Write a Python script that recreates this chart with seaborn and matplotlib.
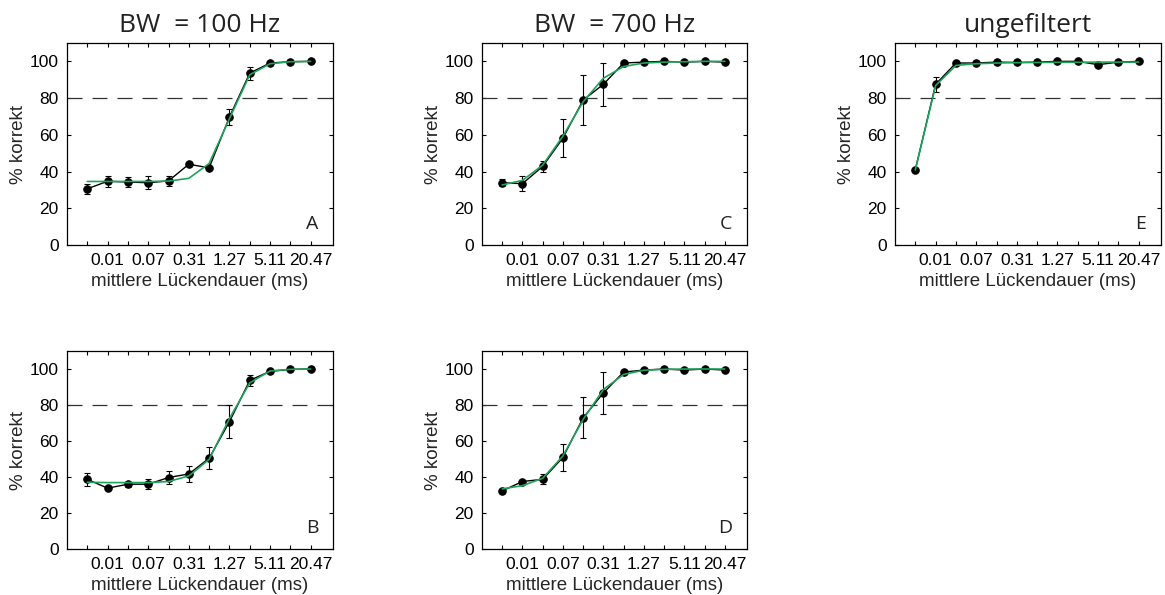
import numpy as np
import pandas as pd
import matplotlib
matplotlib.use("Agg")
import matplotlib.pyplot as plt
import seaborn as sns

sns.set_theme(style="white")
plt.rcParams['font.family'] = ['Liberation Sans', 'DejaVu Sans']

# x positions (gap-duration steps), tick labels at every second step
steps = list(range(1, 13))
tick_steps = [2, 4, 6, 8, 10, 12]
tick_labels = ["0.01", "0.07", "0.31", "1.27", "5.11", "20.47"]

# Panel A: BW = 100 Hz (top)
A_mean = [30.6, 34.7, 34.3, 33.9, 34.9, 44.0, 42.0, 69.7, 93.6, 99.1, 99.8, 100.0]
A_err = [2.8, 3.0, 2.8, 3.5, 2.8, 0.5, 0.5, 4.5, 3.5, 0.5, 0.3, 0.3]
A_fit = [34.6, 34.6, 34.6, 34.6, 34.8, 36.3, 44.4, 68.8, 92.7, 98.7, 99.8, 100.0]

# Panel B: BW = 100 Hz (bottom)
B_mean = [38.7, 33.8, 36.0, 36.0, 39.7, 41.7, 50.4, 70.7, 93.7, 98.7, 99.8, 100.0]
B_err = [3.7, 0.5, 1.5, 2.8, 3.7, 4.6, 6.0, 9.2, 3.0, 0.5, 0.3, 0.3]
B_fit = [37.1, 36.9, 36.9, 36.9, 37.5, 40.6, 49.8, 72.5, 92.3, 98.9, 99.8, 100.0]

# Panel C: BW = 700 Hz (top)
C_mean = [33.9, 33.4, 42.8, 58.2, 78.9, 87.5, 99.1, 99.6, 100.0, 99.6, 100.0, 99.6]
C_err = [2.0, 4.0, 3.0, 10.5, 13.8, 11.7, 0.5, 0.3, 0.3, 0.3, 0.3, 0.3]
C_fit = [32.7, 35.2, 43.5, 59.3, 78.0, 90.8, 97.2, 99.1, 99.6, 99.8, 100.0, 100.0]

# Panel D: BW = 700 Hz (bottom)
D_mean = [32.3, 37.5, 38.7, 50.9, 72.9, 86.7, 98.3, 99.4, 100.0, 99.4, 100.0, 99.4]
D_err = [1.2, 1.0, 2.8, 7.4, 11.5, 11.7, 0.5, 0.3, 0.3, 0.3, 0.3, 0.3]
D_fit = [33.4, 35.2, 39.3, 51.7, 72.0, 88.6, 97.0, 99.3, 99.8, 100.0, 100.0, 100.0]

# Panel E: ungefiltert
E_mean = [40.9, 87.5, 99.1, 99.1, 99.6, 99.4, 99.6, 100.0, 100.0, 98.2, 99.6, 100.0]
E_err = [0.5, 4.2, 0.5, 0.3, 0.3, 0.3, 0.3, 0.3, 0.3, 0.5, 0.3, 0.3]
E_fit = [40.9, 86.8, 97.8, 98.7, 99.1, 99.3, 99.4, 99.5, 99.5, 99.6, 99.6, 99.6]

titles = ["BW  = 100 Hz", "BW  = 700 Hz", "ungefiltert"]
letters = ["A", "B", "C", "D", "E"]

fig = plt.figure(figsize=(11.65, 5.95), dpi=100)
W, H = 1165.0, 595.0

def rect(x0, x1, y0, y1):
    return [x0 / W, 1 - y1 / H, (x1 - x0) / W, (y1 - y0) / H]

panels = [
    (rect(67, 333, 43, 245), A_mean, A_err, A_fit, "A", titles[0]),
    (rect(67, 333, 351, 549), B_mean, B_err, B_fit, "B", None),
    (rect(482, 747, 43, 245), C_mean, C_err, C_fit, "C", titles[1]),
    (rect(482, 747, 351, 549), D_mean, D_err, D_fit, "D", None),
    (rect(895, 1161, 43, 245), E_mean, E_err, E_fit, "E", titles[2]),
]

green = "#1ea35a"
for pos, mean, err, fit, letter, title in panels:
    ax = fig.add_axes(pos)
    df = pd.DataFrame({"step": steps, "mean": mean, "err": err, "fit": fit})
    ax.axhline(80, color="#333333", lw=0.9, dashes=(12, 8), zorder=1)
    ax.errorbar(df["step"], df["mean"], yerr=df["err"], fmt="none",
                ecolor="black", elinewidth=0.8, capsize=2.2, capthick=0.8, zorder=2)
    sns.lineplot(data=df, x="step", y="mean", ax=ax, color="black", lw=1.0,
                 marker="o", markersize=5.4, markeredgecolor="black",
                 markerfacecolor="black", zorder=3)
    sns.lineplot(data=df, x="step", y="fit", ax=ax, color=green, lw=1.2, zorder=4)
    ax.set_xlim(0.0, 13.1)
    ax.set_ylim(0, 110)
    ax.set_xticks(steps)
    ax.set_xticklabels(["" if s not in tick_steps else tick_labels[tick_steps.index(s)]
                        for s in steps], fontsize=12.5)
    ax.set_yticks([0, 20, 40, 60, 80, 100])
    ax.set_yticklabels(["0", "20", "40", "60", "80", "100"], fontsize=12.5)
    ax.tick_params(direction="in", length=3, width=0.8, top=True, right=True,
                   bottom=True, left=True, colors="black", pad=6)
    ax.tick_params(axis="x", pad=6)
    for sp in ax.spines.values():
        sp.set_visible(True)
        sp.set_color("black")
        sp.set_linewidth(0.9)
    ax.set_xlabel("mittlere Lückendauer (ms)", fontsize=13.5, labelpad=3)
    ax.set_ylabel("% korrekt", fontsize=13.5, labelpad=2)
    ax.text(0.945, 0.06, letter, transform=ax.transAxes, ha="right", va="bottom",
            fontsize=14, family="Open Sans", color="#222222")
    if title:
        ax.set_title(title, fontsize=19, family="Open Sans", color="#222222", pad=8)
    ax.grid(False)

fig.savefig("out.png", dpi=100)
